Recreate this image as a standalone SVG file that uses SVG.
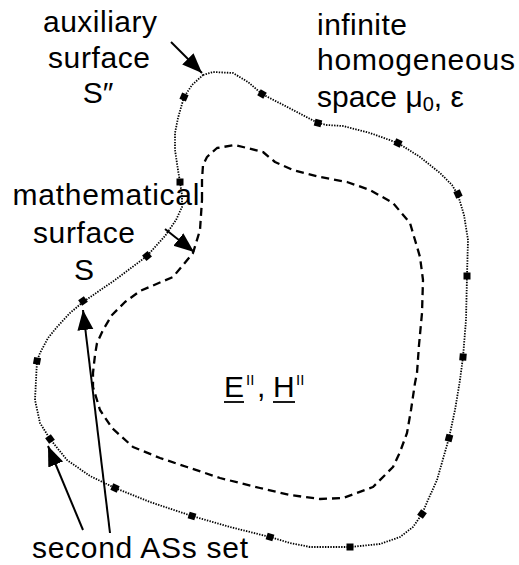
<svg xmlns="http://www.w3.org/2000/svg" xmlns:xlink="http://www.w3.org/1999/xlink" width="519" height="565" viewBox="0 0 519 565">
<defs>
<style>
text{font-family:"Liberation Sans",Arial,Helvetica,sans-serif;font-size:30px;fill:#000;}
.outer{fill:none;stroke:#000;stroke-width:1.8;stroke-dasharray:1.4 1.3;stroke-linejoin:round;}
.inner{fill:none;stroke:#000;stroke-width:2.3;stroke-dasharray:8 5;stroke-linejoin:round;}
.arr{fill:none;stroke:#000;stroke-width:2;}
.ul{stroke:#000;stroke-width:1.8;}
</style>
<marker id="ah" markerUnits="userSpaceOnUse" markerWidth="22" markerHeight="18" refX="20" refY="8" orient="auto">
<path d="M0,0 L20,8 L0,16 Z" fill="#000"/>
</marker>
<rect id="sq" x="-3.5" y="-3.5" width="7" height="7" fill="#000"/>
</defs>
<rect width="519" height="565" fill="#fff"/>
<g id="surface-outer">
<path class="outer" d="M203,75 L213,72 L233,73 L248,82 L262,94 L293,110 L318,123 L327,125 L343,126 L370,133 L398,143 L420,157 L440,173 L452,185 L458,195 L464,215 L468,240 L467,276 L466,320 L463,357 L460,380 L455,410 L449,438 L437,480 L428,500 L422,514 L413,527 L400,537 L380,544 L350,547 L310,547 L290,543 L270,537 L230,527 L192,516 L150,502 L115,488 L90,476 L67,460 L50,439 L40,423 L35,400 L36,380 L37,361 L40,353 L48,338 L57,327 L70,313 L83,302 L115,280 L147,256 L165,236 L176,220 L182,207 L182,195 L180,182 L178,170 L175,150 L175,133 L178,118 L184,97 L192,85 Z"/>
<use xlink:href="#sq" transform="translate(184,97) rotate(-67)"/>
<use xlink:href="#sq" transform="translate(262,94) rotate(30)"/>
<use xlink:href="#sq" transform="translate(318,123) rotate(15)"/>
<use xlink:href="#sq" transform="translate(398,143) rotate(25)"/>
<use xlink:href="#sq" transform="translate(458,194) rotate(65)"/>
<use xlink:href="#sq" transform="translate(467,276)"/>
<use xlink:href="#sq" transform="translate(463,357) rotate(5)"/>
<use xlink:href="#sq" transform="translate(449,438) rotate(15)"/>
<use xlink:href="#sq" transform="translate(422,514) rotate(35)"/>
<use xlink:href="#sq" transform="translate(350,547)"/>
<use xlink:href="#sq" transform="translate(270,537) rotate(17)"/>
<use xlink:href="#sq" transform="translate(192,516) rotate(17)"/>
<use xlink:href="#sq" transform="translate(115,488) rotate(25)"/>
<use xlink:href="#sq" transform="translate(50,439) rotate(55)"/>
<use xlink:href="#sq" transform="translate(37,361) rotate(10)"/>
<use xlink:href="#sq" transform="translate(83,301) rotate(-35)"/>
<use xlink:href="#sq" transform="translate(147,256) rotate(-38)"/>
<use xlink:href="#sq" transform="translate(180,182)"/>
</g>
<g id="surface-inner">
<path class="inner" d="M202,200 L202,180 L203,165 L207,157 L217,148 L235,145 L263,152 L275,162 L293,170 L320,177 L347,182 L370,190 L393,203 L410,223 L420,257 L423,280 L422,313 L419,345 L417,373 L415,383 L411,410 L407,433 L400,452 L393,467 L373,487 L343,498 L320,499 L290,495 L260,488 L220,478 L187,467 L160,458 L133,447 L112,428 L100,410 L93,387 L93,373 L95,355 L97,343 L103,330 L112,315 L125,302 L140,291 L173,277 L193,253 L200,230 Z"/>
</g>
<g id="connectors">
<line class="arr" x1="171" y1="42" x2="202" y2="73" marker-end="url(#ah)"/>
<line class="arr" x1="165" y1="229" x2="194" y2="252" marker-end="url(#ah)"/>
<line class="arr" x1="110" y1="533" x2="83" y2="310" marker-end="url(#ah)"/>
<line class="arr" x1="83" y1="530" x2="48" y2="446" marker-end="url(#ah)"/>
</g>
<g id="label-auxiliary">
<text x="100" y="32" text-anchor="middle" textLength="114">auxiliary</text>
<text x="99" y="68" text-anchor="middle" textLength="102">surface</text>
<text x="98" y="103" text-anchor="middle">S″</text>
</g>
<g id="label-space">
<text x="317" y="35" textLength="90">infinite</text>
<text x="317" y="70" textLength="198">homogeneous</text>
<text x="317" y="107">space μ<tspan font-size="20" dy="4">0</tspan><tspan dy="-4">, ε</tspan></text>
</g>
<g id="label-mathematical">
<text x="106" y="205" text-anchor="middle" textLength="187">mathematical</text>
<text x="84" y="243" text-anchor="middle" textLength="102">surface</text>
<text x="84" y="280" text-anchor="middle">S</text>
</g>
<g id="label-fields">
<text x="224" y="397">E<tspan x="246" dy="-12" font-size="15">II</tspan><tspan x="257" dy="12">,</tspan><tspan x="273">H</tspan><tspan x="296" dy="-12" font-size="15">II</tspan></text>
<line class="ul" x1="224" y1="402" x2="244" y2="402"/>
<line class="ul" x1="273" y1="402" x2="295" y2="402"/>
</g>
<g id="label-second">
<text x="32" y="558" textLength="216">second ASs set</text>
</g>
</svg>
